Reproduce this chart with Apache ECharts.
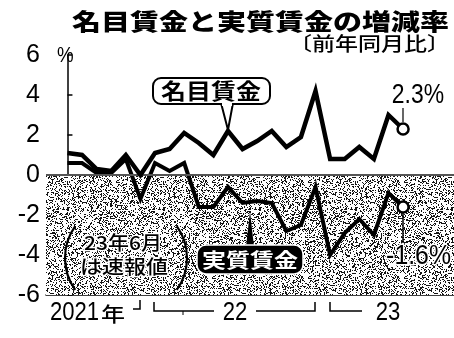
<!DOCTYPE html>
<html><head><meta charset="utf-8">
<script src="https://cdn.jsdelivr.net/npm/echarts@6/dist/echarts.min.js"></script>
<style>html,body{margin:0;padding:0;background:#fff}#c{width:454px;height:338px}</style>
</head><body><div id="c"></div>
<script>
// Months: July 2021 .. June 2023
const months = ['2021-07','2021-08','2021-09','2021-10','2021-11','2021-12',
  '2022-01','2022-02','2022-03','2022-04','2022-05','2022-06','2022-07','2022-08','2022-09','2022-10','2022-11','2022-12',
  '2023-01','2023-02','2023-03','2023-04','2023-05','2023-06'];
// 名目賃金 (nominal wages), % y/y
const nominal = [1.1, 1.0, 0.3, 0.2, 1.0, 0.0, 1.1, 1.3, 2.1, 1.6, 1.0, 2.2, 1.3, 1.7, 2.2, 1.4, 1.9, 4.2, 0.8, 0.8, 1.4, 0.8, 3.0, 2.3];
// 実質賃金 (real wages), % y/y
const real = [0.6, 0.6, 0.1, 0.1, 0.8, -1.2, 0.6, 0.2, 0.6, -1.6, -1.6, -0.6, -1.4, -1.3, -1.4, -2.8, -2.5, -0.6, -4.0, -2.9, -2.2, -3.0, -0.9, -1.6];
const yTicks = [-6, -4, -2, 0, 2, 4, 6];

const chart = echarts.init(document.getElementById('c'), null, {renderer: 'canvas'});

// stipple texture (deterministic hash pattern)
function stipple() {
  const c = document.createElement('canvas');
  c.width = 96; c.height = 96;
  const g = c.getContext('2d');
  const img = g.createImageData(96, 96);
  for (let y = 0; y < 96; y++) for (let x = 0; x < 96; x++) {
    let h = (x * 374761393 + y * 668265263) | 0;
    h = Math.imul(h ^ (h >>> 13), 1274126177);
    h = (h ^ (h >>> 16)) >>> 0;
    const v = (h % 100) < 30 ? 20 : 255;
    const i = (y * 96 + x) * 4;
    img.data[i] = img.data[i+1] = img.data[i+2] = v; img.data[i+3] = 255;
  }
  g.putImageData(img, 0, 0);
  return c;
}

const last = months.length - 1;
const toPairs = arr => arr.map((v, i) => [i, v]);
const endSymbol = (v, p) => p.dataIndex === last ? 'circle' : 'none';
const SANS = '"Liberation Sans", Arial, sans-serif';
const JP = '"Noto Sans CJK JP", sans-serif';

chart.setOption({
  animation: false,
  grid: {left: 46, right: 0, top: 55, bottom: 43},
  xAxis: {
    type: 'value', min: -1.47, max: 26.49,
    axisLine: {show: true, onZero: false, lineStyle: {color: '#000', width: 1.5}},
    axisTick: {show: false}, axisLabel: {show: false}, splitLine: {show: false}
  },
  yAxis: {
    type: 'value', min: yTicks[0], max: yTicks[yTicks.length - 1], interval: 2,
    axisLine: {show: true, lineStyle: {color: '#000', width: 1.5}},
    axisTick: {show: true, inside: true, length: 5, lineStyle: {color: '#000', width: 1.5}},
    axisLabel: {color: '#000', fontSize: 25, fontFamily: SANS, margin: 6},
    splitLine: {show: false}
  },
  series: [
    {
      type: 'line', data: [], z: 1, silent: true,
      markArea: {silent: true, itemStyle: {color: {image: stipple(), repeat: 'repeat'}},
        data: [[{yAxis: 0}, {yAxis: -6}]]},
      markLine: {silent: true, symbol: 'none', label: {show: false},
        lineStyle: {color: '#555', width: 2, type: 'solid'}, data: [{yAxis: 0}]}
    },
    {
      name: '名目賃金', type: 'line', data: toPairs(nominal), z: 5,
      symbol: endSymbol, symbolSize: 11, showSymbol: true,
      lineStyle: {color: '#000', width: 4.5, join: 'miter'},
      itemStyle: {color: '#fff', borderColor: '#000', borderWidth: 2.5}
    },
    {
      name: '実質賃金', type: 'line', data: toPairs(real), z: 4,
      symbol: endSymbol, symbolSize: 11, showSymbol: true,
      lineStyle: {color: '#000', width: 4, join: 'miter'},
      itemStyle: {color: '#fff', borderColor: '#000', borderWidth: 2.5}
    }
  ],
  graphic: [
    // title
    {type: 'text', x: 449, y: 21, scaleY: 0.8, z: 10,
      style: {text: '名目賃金と実質賃金の増減率', x: 0, y: 0, align: 'right', verticalAlign: 'middle',
        font: '900 29px ' + JP, fill: '#000'}},
    {type: 'text', x: 450, y: 44, scaleY: 0.82, z: 10,
      style: {text: '〔前年同月比〕', x: 0, y: 0, align: 'right', verticalAlign: 'middle',
        font: '500 23px ' + JP, fill: '#000'}},
    {type: 'text', x: 57, y: 56, scaleX: 0.85, z: 10,
      style: {text: '%', x: 0, y: 0, align: 'left', verticalAlign: 'middle', font: '22px ' + SANS, fill: '#000'}},
    // 名目賃金 callout
    {type: 'polygon', z: 11, shape: {points: [[221, 103], [233, 103], [228, 130]]},
      style: {fill: '#fff', stroke: '#000', lineWidth: 2}},
    {type: 'rect', z: 12, shape: {x: 153, y: 78, width: 117, height: 26, r: 8},
      style: {fill: '#fff', stroke: '#000', lineWidth: 2}},
    {type: 'rect', z: 13, shape: {x: 222, y: 101, width: 10, height: 5}, style: {fill: '#fff'}},
    {type: 'text', x: 211, y: 91, scaleY: 0.85, z: 14,
      style: {text: '名目賃金', x: 0, y: 0, align: 'center', verticalAlign: 'middle', font: '700 25px ' + JP, fill: '#000'}},
    // 実質賃金 callout
    {type: 'polygon', z: 11, shape: {points: [[246, 247], [254, 247], [250, 211]]},
      style: {fill: '#000'}},
    {type: 'rect', z: 12, shape: {x: 197, y: 245, width: 106, height: 29, r: 9},
      style: {fill: '#000', stroke: '#fff', lineWidth: 1.5}},
    {type: 'text', x: 250, y: 260, scaleY: 0.85, z: 14,
      style: {text: '実質賃金', x: 0, y: 0, align: 'center', verticalAlign: 'middle', font: '700 24px ' + JP, fill: '#fff'}},
    // end labels
    {type: 'text', x: 418, y: 96, scaleX: 0.85, z: 10,
      style: {text: '2.3%', x: 0, y: 0, align: 'center', verticalAlign: 'middle', font: '27px ' + SANS, fill: '#000'}},
    {type: 'line', z: 10, shape: {x1: 403, y1: 108, x2: 403, y2: 122}, style: {stroke: '#000', lineWidth: 1.2}},
    {type: 'text', x: 451, y: 257, scaleX: 0.92, z: 10,
      style: {text: '-1.6%', x: 0, y: 0, align: 'right', verticalAlign: 'middle', font: '27px ' + SANS, fill: '#000',
        stroke: '#fff', lineWidth: 3}},
    {type: 'line', z: 10, shape: {x1: 403, y1: 212, x2: 403, y2: 243}, style: {stroke: '#000', lineWidth: 1.5}},
    // note in parentheses
    {type: 'arc', z: 10, shape: {cx: 120, cy: 258, r: 55, startAngle: Math.PI - 0.62, endAngle: Math.PI + 0.62, clockwise: true},
      style: {stroke: '#000', fill: null, lineWidth: 2.2}},
    {type: 'arc', z: 10, shape: {cx: 132, cy: 258, r: 55, startAngle: -0.62, endAngle: 0.62, clockwise: true},
      style: {stroke: '#000', fill: null, lineWidth: 2.2}},
    {type: 'text', x: 123, y: 243, scaleY: 0.9, z: 10,
      style: {text: '23年6月', x: 0, y: 0, align: 'center', verticalAlign: 'middle', font: '500 21px ' + JP, fill: '#000',
        stroke: '#fff', lineWidth: 3}},
    {type: 'text', x: 124, y: 266, scaleY: 0.9, z: 10,
      style: {text: 'は速報値', x: 0, y: 0, align: 'center', verticalAlign: 'middle', font: '500 22px ' + JP, fill: '#000',
        stroke: '#fff', lineWidth: 3}},
    // x-axis year brackets
    {type: 'text', x: 50, y: 313, scaleX: 0.85, z: 10,
      style: {text: '2021', x: 0, y: 0, align: 'left', verticalAlign: 'middle', font: '26px ' + SANS, fill: '#000'}},
    {type: 'text', x: 101, y: 314, scaleY: 0.85, z: 10,
      style: {text: '年', x: 0, y: 0, align: 'left', verticalAlign: 'middle', font: '500 24px ' + JP, fill: '#000'}},
    {type: 'polyline', z: 10, shape: {points: [[133, 309], [140, 309], [140, 300]]}, style: {stroke: '#000', lineWidth: 1.5, fill: null}},
    {type: 'polyline', z: 10, shape: {points: [[154, 302], [154, 311], [214, 311]]}, style: {stroke: '#000', lineWidth: 1.5, fill: null}},
    {type: 'line', z: 10, shape: {x1: 183, y1: 311, x2: 183, y2: 315}, style: {stroke: '#000', lineWidth: 1}},
    {type: 'text', x: 235, y: 313, scaleX: 0.85, z: 10,
      style: {text: '22', x: 0, y: 0, align: 'center', verticalAlign: 'middle', font: '26px ' + SANS, fill: '#000'}},
    {type: 'polyline', z: 10, shape: {points: [[256, 311], [315, 311], [315, 302]]}, style: {stroke: '#000', lineWidth: 1.5, fill: null}},
    {type: 'polyline', z: 10, shape: {points: [[330, 302], [330, 311], [362, 311]]}, style: {stroke: '#000', lineWidth: 1.5, fill: null}},
    {type: 'text', x: 388, y: 313, scaleX: 0.85, z: 10,
      style: {text: '23', x: 0, y: 0, align: 'center', verticalAlign: 'middle', font: '26px ' + SANS, fill: '#000'}}
  ]
});
</script></body></html>
